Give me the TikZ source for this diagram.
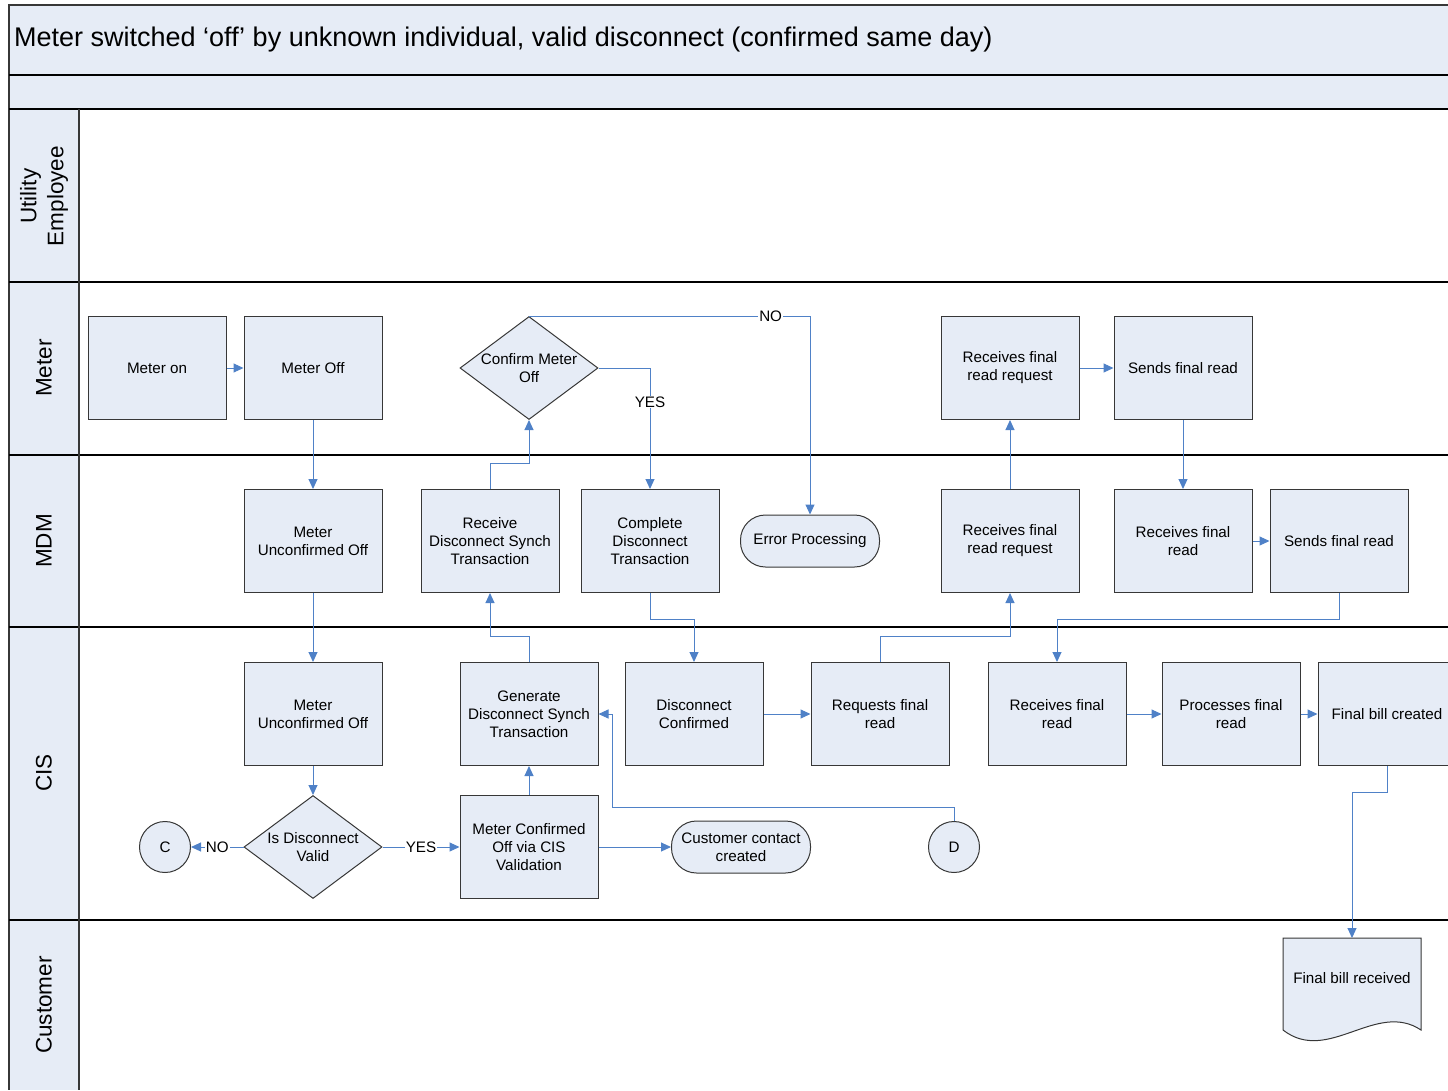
\documentclass[tikz,border=0pt]{standalone}
\usepackage{fontspec}
\setmainfont{Liberation Sans}
\usetikzlibrary{positioning, shapes.geometric, arrows.meta}
\definecolor{lanefill}{RGB}{230,236,246}
\definecolor{flowblue}{RGB}{79,129,199}
\definecolor{edgegray}{RGB}{55,55,55}

\begin{document}
\begin{tikzpicture}[x=1pt, y=-1pt,
  every node/.style={font=\fontsize{15.2}{18}\selectfont, align=center},
  box/.style={draw=edgegray, fill=lanefill, line width=1pt, rectangle, minimum width=138pt, minimum height=103pt, inner sep=2pt},
  decision/.style={draw=edgegray, fill=lanefill, line width=1pt, diamond, minimum width=138pt, minimum height=103pt, inner sep=0pt},
  terminal/.style={draw=edgegray, fill=lanefill, line width=1pt, rectangle, rounded corners=25pt, minimum width=139pt, minimum height=52pt, inner sep=0pt},
  onpage/.style={draw=edgegray, fill=lanefill, line width=1pt, circle, minimum size=51pt, inner sep=0pt},
  flow/.style={draw=flowblue, line width=1pt, -{Triangle[length=10pt, width=9pt]}},
  tag/.style={fill=white, inner sep=1pt},
  lanename/.style={rotate=90, font=\fontsize{22.5}{27}\selectfont}]

\useasboundingbox (0,0) rectangle (1448,1090);

\fill[lanefill] (9,5) rectangle (1448,109);
\fill[lanefill] (9,109) rectangle (79,1090);
\draw[edgegray, line width=1.2pt] (1448,5) -- (9,5) -- (9,1090);
\foreach \y in {75,109,282,455,627,920}
  \draw[black, line width=1.2pt] (9,\y) -- (1448,\y);
\draw[edgegray, line width=1.2pt] (79,109) -- (79,1090);

\node (title) [anchor=west, inner sep=0pt, font=\fontsize{27}{31}\selectfont] at (14,40) {Meter switched ‘off’ by unknown individual, valid disconnect (confirmed same day)};

\node (lnemployee) [lanename] at (44,196) {Utility\\Employee};
\node (lnmeter) [lanename] at (44,368) {Meter};
\node (lnmdm) [lanename] at (44,541) {MDM};
\node (lncis) [lanename] at (44,773) {CIS};
\node (lncustomer) [lanename] at (44,1005) {Customer};

\node (meteron) [box] at (157,368) {Meter on};
\node (meteroff) [box] at (313,368) {Meter Off};
\node (confirm) [decision, label={center:Confirm Meter\\Off}] at (529,368) {};
\node (mrecreq) [box] at (1010,368) {Receives final\\read request};
\node (msend) [box] at (1183,368) {Sends final read};

\node (dunconf) [box] at (313,541) {Meter\\Unconfirmed Off};
\node (dreceive) [box] at (490,541) {Receive\\Disconnect Synch\\Transaction};
\node (dcomplete) [box] at (650,541) {Complete\\Disconnect\\Transaction};
\node (derror) [terminal] at (810,541) {Error Processing};
\node (drecreq) [box] at (1010,541) {Receives final\\read request};
\node (drecread) [box] at (1183,541) {Receives final\\read};
\node (dsend) [box] at (1339,541) {Sends final read};

\node (cunconf) [box] at (313,714) {Meter\\Unconfirmed Off};
\node (cgenerate) [box] at (529,714) {Generate\\Disconnect Synch\\Transaction};
\node (cconfirmed) [box] at (694,714) {Disconnect\\Confirmed};
\node (crequest) [box] at (880,714) {Requests final\\read};
\node (crecread) [box] at (1057,714) {Receives final\\read};
\node (cprocess) [box] at (1231,714) {Processes final\\read};
\node (cbill) [box] at (1387,714) {Final bill created};
\node (offc) [onpage] at (165,847) {C};
\node (cvalid) [decision, label={center:Is Disconnect\\Valid}] at (313,847) {};
\node (cvalidated) [box] at (529,847) {Meter Confirmed\\Off via CIS\\Validation};
\node (ccontact) [terminal] at (741,847) {Customer contact\\created};
\node (offd) [onpage] at (954,847) {D};

\coordinate (billtop) at (1352,938);
\draw[draw=edgegray, fill=lanefill, line width=1pt] (billtop) ++(-69,0) -- ++(138,0) -- ++(0,92)
  .. controls +(-45,-30) and +(45,35) .. ++(-138,0) -- cycle;
\node (billrcv) at (1352,978) {Final bill received};

\draw[flow] (meteron) -- (meteroff);
\draw[flow] (meteroff) -- (dunconf);
\draw[flow] (dunconf) -- (cunconf);
\draw[flow] (cunconf) -- (cvalid);
\draw[flow] (cvalid) -- node[tag] {NO} (offc);
\draw[flow] (cvalid) -- node[tag] {YES} (cvalidated);
\draw[flow] (cvalidated) -- (cgenerate);
\draw[flow] (cvalidated) -- (ccontact);
\draw[flow] (cgenerate.north) -- ++(0,-26) -| (dreceive.south);
\draw[flow] (dreceive.north) -- ++(0,-26) -| (confirm.south);
\draw[flow] (confirm.east) -| node[tag, pos=0.64] {YES} (dcomplete.north);
\draw[flow] (confirm.north) -| node[tag, pos=0.43] {NO} (derror.north);
\draw[flow] (dcomplete.south) -- ++(0,26) -| (cconfirmed.north);
\draw[flow] (cconfirmed) -- (crequest);
\draw[flow] (crequest.north) -- ++(0,-26) -| (drecreq.south);
\draw[flow] (drecreq) -- (mrecreq);
\draw[flow] (mrecreq) -- (msend);
\draw[flow] (msend) -- (drecread);
\draw[flow] (drecread) -- (dsend);
\draw[flow] (dsend.south) -- ++(0,26) -| (crecread.north);
\draw[flow] (crecread) -- (cprocess);
\draw[flow] (cprocess) -- (cbill);
\draw[flow] (cbill.south) -- ++(0,26) -| (billtop);
\draw[flow] (offd.north) -- ++(0,-14) -| ([xshift=14pt]cgenerate.east) -- (cgenerate.east);
\end{tikzpicture}
\end{document}
